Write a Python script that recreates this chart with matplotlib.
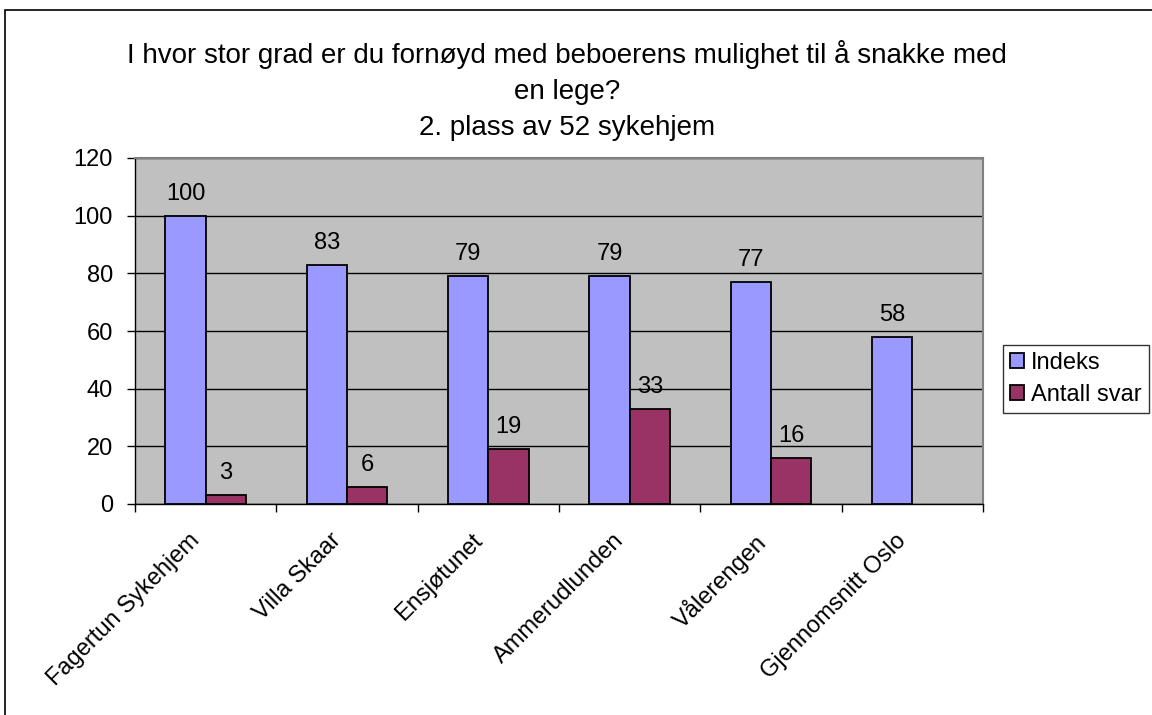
import matplotlib
matplotlib.use("Agg")
import matplotlib.pyplot as plt
import numpy as np
from matplotlib.patches import Rectangle
from matplotlib.transforms import ScaledTranslation

plt.rcParams['font.family'] = ['Liberation Sans', 'DejaVu Sans']

categories = ["Fagertun Sykehjem", "Villa Skaar", "Ensjøtunet", "Ammerudlunden",
              "Vålerengen", "Gjennomsnitt Oslo"]
indeks = [100, 83, 79, 79, 77, 58]
antall_svar = [3, 6, 19, 33, 16, np.nan]
series_names = ["Indeks", "Antall svar"]
title_text = ("I hvor stor grad er du fornøyd med beboerens mulighet til å snakke med\n"
              "en lege?\n2. plass av 52 sykehjem")

W, H = 1152, 715
fig = plt.figure(figsize=(W / 100, H / 100), dpi=100)
fs = 17

# outer chart border (extends past the right/bottom edge)
fig.add_artist(Rectangle((5 / W, -0.1), 1.2, (H - 10) / H + 0.1, transform=fig.transFigure,
                         fill=False, edgecolor='black', linewidth=1.2))

ax = fig.add_axes([135 / W, (H - 504) / H, (983 - 135) / W, (504 - 158) / H])
ax.set_facecolor('#C0C0C0')

x = np.arange(len(categories))
bw = 1 / 3.5
b1 = ax.bar(x - bw / 2, indeks, bw, color='#9999FF', edgecolor='black', linewidth=1.3, zorder=3,
            label=series_names[0])
b2 = ax.bar(x + bw / 2, antall_svar, bw, color='#993366', edgecolor='black', linewidth=1.3, zorder=3,
            label=series_names[1])

for xi, v in zip(x, indeks):
    ax.annotate(f"{v:g}", (xi - bw / 2, v), xytext=(0, 8), textcoords='offset points',
                ha='center', va='bottom', fontsize=fs)
for xi, v in zip(x, antall_svar):
    if not np.isnan(v):
        ax.annotate(f"{v:g}", (xi + bw / 2, v), xytext=(0, 8), textcoords='offset points',
                    ha='center', va='bottom', fontsize=fs)

ax.set_xlim(-0.5, len(categories) - 0.5)
ax.set_ylim(0, 120)
ax.set_yticks(np.arange(0, 121, 20))
ax.yaxis.grid(True, color='black', linewidth=1, zorder=0)
ax.set_axisbelow(True)

ax.set_xticks(np.arange(len(categories) + 1) - 0.5, minor=False)
ax.set_xticklabels([])
ax.set_xticks(x, minor=True)
ax.set_xticklabels(categories, minor=True, rotation=45, ha='right', rotation_mode='anchor',
                   fontsize=fs)
ax.tick_params(axis='x', which='minor', length=0, pad=22)
ax.tick_params(axis='x', which='major', length=6, width=1, direction='out')
ax.tick_params(axis='y', length=6, width=1, direction='out', labelsize=fs, pad=10)
off = ScaledTranslation(-0.17, 0.05, fig.dpi_scale_trans)
for lab in ax.get_xticklabels(minor=True):
    lab.set_transform(lab.get_transform() + off)

for s in ['top', 'right']:
    ax.spines[s].set_color('#808080')
    ax.spines[s].set_linewidth(1.5)
for s in ['left', 'bottom']:
    ax.spines[s].set_color('black')
    ax.spines[s].set_linewidth(1)

fig.text(567 / W, 1 - 40 / H, title_text, ha='center', va='top', fontsize=20,
         linespacing=1.5)

leg = fig.legend(handles=[b1, b2], loc='upper left', bbox_to_anchor=(1003 / W, 1 - 345 / H),
                 frameon=True, fancybox=False, edgecolor='black', fontsize=fs,
                 handlelength=0.6, handleheight=0.6, handletextpad=0.3, borderpad=0.3,
                 labelspacing=0.4, borderaxespad=0)
leg.get_frame().set_linewidth(1)

fig.savefig("out.png", dpi=100)
